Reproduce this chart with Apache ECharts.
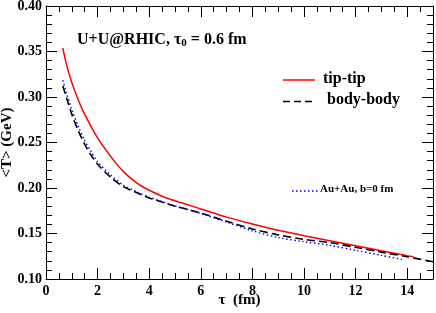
<!DOCTYPE html>
<html>
<head>
<meta charset="utf-8">
<script src="https://cdn.jsdelivr.net/npm/echarts@6/dist/echarts.min.js"></script>
<style>html,body{margin:0;padding:0;background:#fff;}#c{width:436px;height:313px;}</style>
</head>
<body>
<div id="c"></div>
<script>
// tau values (fm)
var tauTip  = [0.65, 0.8, 1.0, 1.25, 1.5, 2.0, 2.5, 3.0, 3.5, 4.0, 4.5, 5.0, 6.0, 7.0, 8.0, 9.0, 10.0, 11.0, 12.0, 13.0, 14.0, 14.25];
var tipTip  = [0.354, 0.335, 0.316, 0.297, 0.281, 0.255, 0.235, 0.218, 0.206, 0.1975, 0.191, 0.186, 0.177, 0.168, 0.1605, 0.1535, 0.1475, 0.142, 0.1365, 0.131, 0.1257, 0.1245];
var tauBody = [0.65, 0.8, 1.0, 1.25, 1.5, 1.75, 2.0, 2.5, 3.0, 3.5, 4.0, 4.5, 5.0, 6.0, 7.0, 8.0, 9.0, 10.0, 11.0, 12.0, 13.0, 14.0, 15.0];
var bodyBody = [0.312, 0.299, 0.281, 0.263, 0.248, 0.236, 0.226, 0.212, 0.2015, 0.195, 0.189, 0.1845, 0.180, 0.1725, 0.1635, 0.155, 0.1485, 0.1435, 0.140, 0.1348, 0.1295, 0.1245, 0.119];
var tauAu   = [0.65, 0.8, 1.0, 1.25, 1.5, 1.75, 2.0, 2.5, 3.0, 3.5, 4.0, 4.5, 5.0, 6.0, 7.0, 8.0, 9.0, 10.0, 11.0, 12.0, 13.0, 13.9];
var auAu    = [0.3185, 0.304, 0.286, 0.268, 0.252, 0.240, 0.229, 0.2145, 0.203, 0.196, 0.19, 0.185, 0.1805, 0.172, 0.1625, 0.153, 0.1455, 0.141, 0.137, 0.1315, 0.126, 0.121];
var xTicks = [0, 2, 4, 6, 8, 10, 12, 14];
var yTicks = [0.10, 0.15, 0.20, 0.25, 0.30, 0.35, 0.40];

function pairs(xs, ys) { return xs.map(function (x, i) { return [x, ys[i]]; }); }

var FONT = '"Liberation Serif", "DejaVu Serif", serif';
var chart = echarts.init(document.getElementById('c'), null, {renderer: 'canvas'});

function xAx(pos, labels) {
  return {
    type: 'value', position: pos, min: 0, max: 15, interval: 2,
    axisLine: {show: true, onZero: false, lineStyle: {color: '#000', width: 1}},
    axisTick: {show: true, inside: true, length: 11, lineStyle: {color: '#000'}},
    minorTick: {show: true, splitNumber: 4, length: 6, lineStyle: {color: '#000'}},
    splitLine: {show: false},
    axisLabel: {show: labels, margin: 5, color: '#000', fontFamily: FONT, fontWeight: 'bold', fontSize: 14, showMaxLabel: false,
      formatter: function (v) { return xTicks.indexOf(v) >= 0 ? String(v) : ''; }},
    name: labels ? 'τ  (fm)' : '', nameLocation: 'middle', nameGap: 14, nameMoveOverlap: false,
    nameTextStyle: {color: '#000', fontFamily: FONT, fontWeight: 'bold', fontSize: 15}
  };
}
function yAx(pos, labels) {
  return {
    type: 'value', position: pos, min: 0.10, max: 0.40, interval: 0.05,
    axisLine: {show: true, onZero: false, lineStyle: {color: '#000', width: 1}},
    axisTick: {show: true, inside: true, length: 11, lineStyle: {color: '#000'}},
    minorTick: {show: true, splitNumber: 5, length: 6, lineStyle: {color: '#000'}},
    splitLine: {show: false},
    axisLabel: {show: labels, margin: 4, color: '#000', fontFamily: FONT, fontWeight: 'bold', fontSize: 14,
      formatter: function (v) { return v.toFixed(2); }},
    name: labels ? '<T> (GeV)' : '', nameLocation: 'middle', nameGap: 31, nameRotate: 90, nameMoveOverlap: false,
    nameTextStyle: {color: '#000', fontFamily: FONT, fontWeight: 'bold', fontSize: 15}
  };
}

var legendText = {fontFamily: FONT, fontWeight: 'bold', fill: '#000'};

chart.setOption({
  backgroundColor: '#fff',
  animation: false,
  grid: {left: 46, right: 3, top: 6, bottom: 34, containLabel: false, outerBoundsMode: 'none'},
  title: {
    left: 72, top: 25,
    text: '{a|U+U@RHIC, τ}{s|0}{a| = 0.6 fm}',
    textStyle: {
      rich: {
        a: {fontFamily: FONT, fontWeight: 'bold', fontSize: 16, color: '#000', lineHeight: 19},
        s: {fontFamily: FONT, fontWeight: 'bold', fontSize: 11, color: '#000', lineHeight: 19, verticalAlign: 'bottom', padding: [6, 0, 0, 0]}
      }
    }
  },
  graphic: [
    {type: 'line', shape: {x1: 283, y1: 80, x2: 315, y2: 80}, style: {stroke: '#ff0000', lineWidth: 1.5}},
    {type: 'text', left: 323, top: 71, style: Object.assign({text: 'tip-tip', fontSize: 16}, legendText)},
    {type: 'line', shape: {x1: 283, y1: 101.5, x2: 315, y2: 101.5}, style: {stroke: '#000', lineWidth: 1.6, lineDash: [7, 4]}},
    {type: 'text', left: 327, top: 92, style: Object.assign({text: 'body-body', fontSize: 16}, legendText)},
    {type: 'line', shape: {x1: 292, y1: 191, x2: 318, y2: 191}, style: {stroke: '#0000ff', lineWidth: 1.4, lineDash: [1.5, 2.5]}},
    {type: 'text', left: 320, top: 184, style: Object.assign({text: 'Au+Au, b=0 fm', fontSize: 11}, legendText)}
  ],
  xAxis: [xAx('bottom', true), xAx('top', false)],
  yAxis: [yAx('left', true), yAx('right', false)],
  series: [
    {name: 'tip-tip', type: 'line', xAxisIndex: 0, yAxisIndex: 0, data: pairs(tauTip, tipTip), smooth: 0.3,
      showSymbol: false, symbol: 'none', lineStyle: {color: '#ff0000', width: 1.5}},
    {name: 'body-body', type: 'line', xAxisIndex: 0, yAxisIndex: 0, data: pairs(tauBody, bodyBody), smooth: 0.3,
      showSymbol: false, symbol: 'none', lineStyle: {color: '#000', width: 1.6, type: [8, 4]}},
    {name: 'Au+Au, b=0 fm', type: 'line', xAxisIndex: 0, yAxisIndex: 0, data: pairs(tauAu, auAu), smooth: 0.3,
      showSymbol: false, symbol: 'none', lineStyle: {color: '#0000ff', width: 1.4, type: [1.5, 2.5]}}
  ]
});
</script>
</body>
</html>
